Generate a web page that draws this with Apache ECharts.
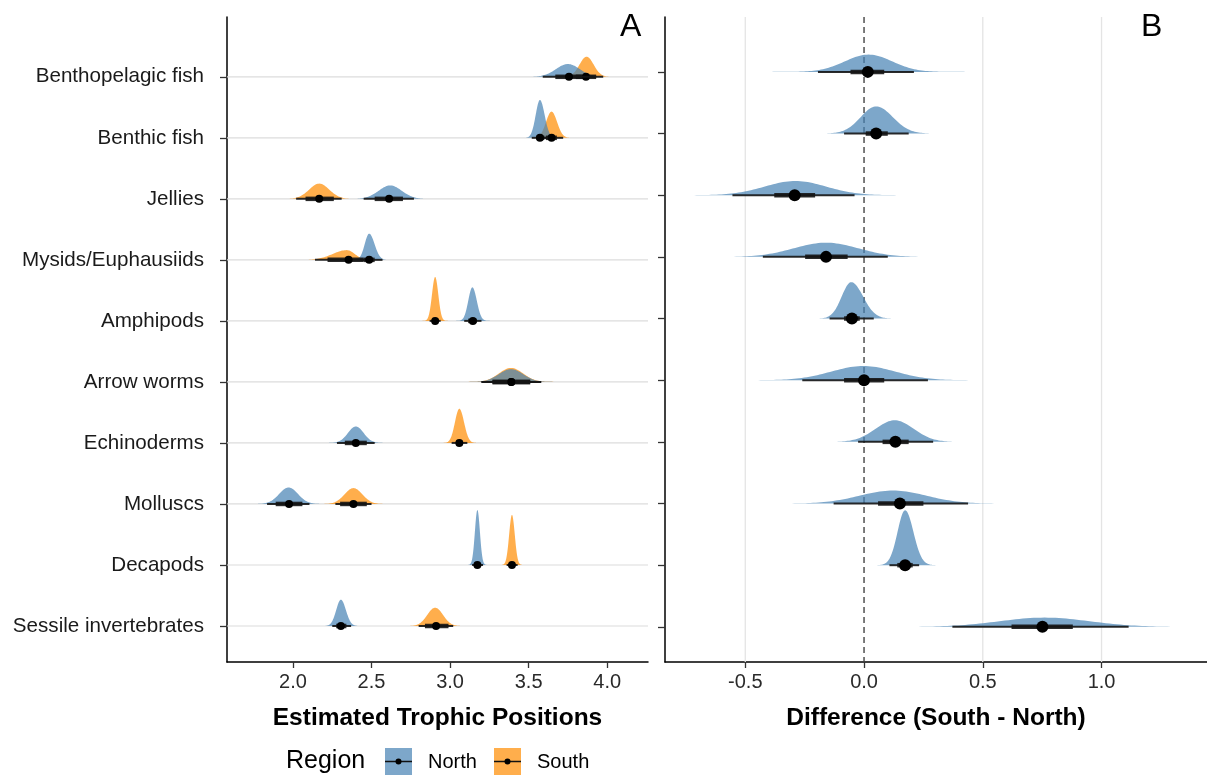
<!DOCTYPE html>
<html><head><meta charset="utf-8">
<script src="https://cdn.jsdelivr.net/npm/echarts@6/dist/echarts.min.js"></script>
<style>html,body{margin:0;padding:0;background:#fff}#c{width:1207px;height:776px}</style>
</head><body><div id="c"></div>
<script>
// ---------- data (top to bottom as displayed) ----------
const categories = ['Benthopelagic fish','Benthic fish','Jellies','Mysids/Euphausiids','Amphipods','Arrow worms','Echinoderms','Molluscs','Decapods','Sessile invertebrates'];
const regions = ['North','South'];
const xTicksA = [2.0, 2.5, 3.0, 3.5, 4.0];
const xTicksB = [-0.5, 0.0, 0.5, 1.0];

// Panel A – North posterior (estimated trophic position)
const northMode   = [3.75, 3.572, 2.619, 2.485, 3.142, 3.388, 2.40, 1.972, 3.174, 2.305];
const northSdL    = [0.075, 0.027, 0.073, 0.028, 0.026, 0.077, 0.05, 0.06, 0.016, 0.03];
const northSdR    = [0.075, 0.030, 0.073, 0.034, 0.028, 0.077, 0.05, 0.06, 0.016, 0.032];
const northHeight = [0.21, 0.62, 0.22, 0.43, 0.55, 0.21, 0.27, 0.27, 0.90, 0.43];
const northLo95   = [3.59, 3.52, 2.45, 2.43, 3.09, 3.20, 2.28, 1.835, 3.14, 2.25];
const northLo66   = [3.67, 3.55, 2.52, 2.45, 3.115, 3.27, 2.33, 1.89, 3.16, 2.275];
const northMedian = [3.757, 3.572, 2.612, 2.485, 3.145, 3.39, 2.40, 1.975, 3.174, 2.305];
const northHi66   = [3.84, 3.60, 2.70, 2.52, 3.17, 3.51, 2.47, 2.06, 3.19, 2.34];
const northHi95   = [3.93, 3.625, 2.77, 2.57, 3.20, 3.58, 2.52, 2.105, 3.21, 2.37];

// Panel A – South posterior
const southMode   = [3.869, 3.646, 2.167, 2.343, 2.905, 3.388, 3.059, 2.385, 3.394, 2.905];
const southSdL    = [0.045, 0.035, 0.064, 0.09, 0.02, 0.077, 0.028, 0.057, 0.018, 0.05];
const southSdR    = [0.045, 0.035, 0.064, 0.05, 0.02, 0.077, 0.030, 0.057, 0.018, 0.05];
const southHeight = [0.33, 0.43, 0.25, 0.16, 0.72, 0.23, 0.56, 0.26, 0.82, 0.30];
const southLo95   = [3.74, 3.58, 2.02, 2.14, 2.87, 3.20, 3.01, 2.27, 3.36, 2.80];
const southLo66   = [3.80, 3.61, 2.08, 2.22, 2.89, 3.27, 3.04, 2.30, 3.38, 2.84];
const southMedian = [3.865, 3.646, 2.167, 2.354, 2.905, 3.39, 3.059, 2.385, 3.394, 2.911];
const southHi66   = [3.93, 3.68, 2.26, 2.45, 2.925, 3.51, 3.08, 2.47, 3.41, 2.99];
const southHi95   = [3.975, 3.72, 2.31, 2.50, 2.94, 3.58, 3.11, 2.50, 3.43, 3.02];

// Panel B – difference (South - North)
const diffMode   = [0.019, 0.051, -0.289, -0.16, -0.054, -0.003, 0.129, 0.122, 0.173, 0.76];
const diffSdL    = [0.10, 0.065, 0.13, 0.135, 0.04, 0.135, 0.08, 0.14, 0.032, 0.19];
const diffSdR    = [0.10, 0.070, 0.13, 0.135, 0.05, 0.135, 0.08, 0.14, 0.035, 0.19];
const diffHeight = [0.28, 0.44, 0.23, 0.23, 0.59, 0.23, 0.35, 0.21, 0.89, 0.15];
const diffLo95   = [-0.194, -0.084, -0.554, -0.426, -0.145, -0.26, -0.025, -0.128, 0.107, 0.372];
const diffLo66   = [-0.057, 0.007, -0.378, -0.248, -0.084, -0.084, 0.078, 0.059, 0.14, 0.621];
const diffMedian = [0.016, 0.051, -0.292, -0.16, -0.051, 0.0, 0.132, 0.151, 0.173, 0.751];
const diffHi66   = [0.085, 0.10, -0.206, -0.069, -0.018, 0.085, 0.188, 0.25, 0.205, 0.879];
const diffHi95   = [0.21, 0.188, -0.04, 0.10, 0.041, 0.269, 0.291, 0.438, 0.232, 1.114];

// ---------- helpers ----------
const n = categories.length;
const rowOf = i => n - 1 - i;
const rows = categories.map((c, i) => rowOf(i));
const FONT = "'Liberation Sans', Arial, Helvetica, sans-serif";
const BLUE = 'rgba(70,130,180,0.7)';
const ORANGE = 'rgba(255,140,0,0.7)';
const BLUE_KEY = '#7DA7CA';
const ORANGE_KEY = '#FFAE4C';

const densItems = (mode, sl, sr, h) => categories.map((c, i) => [mode[i], rowOf(i), sl[i], sr[i], h[i]]);
const intItems = (lo95, lo66, med, hi66, hi95) => categories.map((c, i) => [med[i], rowOf(i), lo95[i], lo66[i], hi66[i], hi95[i]]);

function renderDensity(color) {
  return function (params, api) {
    const m = api.value(0), row = api.value(1), sl = api.value(2), sr = api.value(3), h = api.value(4);
    const pts = [api.coord([m - 4.4 * sl, row])];
    for (let k = -4.4; k <= 4.4001; k += 0.08) {
      const s = k < 0 ? sl : sr;
      pts.push(api.coord([m + k * s, row + h * Math.exp(-k * k / 2)]));
    }
    pts.push(api.coord([m + 4.4 * sr, row]));
    const cs = params.coordSys;
    return { type: 'polygon', shape: { points: pts }, style: { fill: color },
      clipPath: { type: 'rect', shape: { x: cs.x, y: cs.y, width: cs.width, height: cs.height } } };
  };
}
function renderInterval(thin, thick, r) {
  return function (params, api) {
    const row = api.value(1);
    const p = api.coord([api.value(0), row]);
    const a = api.coord([api.value(2), row]), c = api.coord([api.value(3), row]);
    const d = api.coord([api.value(4), row]), b = api.coord([api.value(5), row]);
    return { type: 'group', children: [
      { type: 'line', shape: { x1: a[0], y1: a[1], x2: b[0], y2: b[1] }, style: { stroke: 'rgba(20,20,20,0.9)', lineWidth: thin } },
      { type: 'line', shape: { x1: c[0], y1: c[1], x2: d[0], y2: d[1] }, style: { stroke: 'rgba(20,20,20,0.9)', lineWidth: thick } },
      { type: 'circle', shape: { cx: p[0], cy: p[1], r: r }, style: { fill: '#000' } }
    ] };
  };
}

const axisLineStyle = { color: '#000', width: 1.5 };

const option = {
  animation: false,
  backgroundColor: '#fff',
  textStyle: { fontFamily: FONT },
  grid: [
    { left: 227, right: 559, top: 17, bottom: 114 },
    { left: 665, right: 0, top: 17, bottom: 114 }
  ],
  xAxis: [
    { gridIndex: 0, type: 'value', min: 1.58, max: 4.26,
      axisLine: { show: true, onZero: false, lineStyle: axisLineStyle },
      axisTick: { show: true, customValues: xTicksA, length: 6, lineStyle: { color: '#333', width: 1.3 } },
      axisLabel: { customValues: xTicksA, formatter: v => Number(v).toFixed(1), fontSize: 20, color: '#2a2a2a', margin: 10, fontFamily: FONT },
      splitLine: { show: false },
      name: 'Estimated Trophic Positions', nameLocation: 'middle', nameGap: 44,
      nameTextStyle: { fontSize: 24.5, fontWeight: 'bold', color: '#000', fontFamily: FONT } },
    { gridIndex: 1, type: 'value', min: -0.838, max: 1.444,
      axisLine: { show: true, onZero: false, lineStyle: axisLineStyle },
      axisTick: { show: true, customValues: xTicksB, length: 6, lineStyle: { color: '#333', width: 1.3 } },
      axisLabel: { customValues: xTicksB, formatter: v => Number(v).toFixed(1), fontSize: 20, color: '#2a2a2a', margin: 10, fontFamily: FONT },
      splitLine: { show: false },
      name: 'Difference (South - North)', nameLocation: 'middle', nameGap: 44,
      nameTextStyle: { fontSize: 24.5, fontWeight: 'bold', color: '#000', fontFamily: FONT } }
  ],
  yAxis: [
    { gridIndex: 0, type: 'value', min: -0.59, max: 9.98,
      axisLine: { show: true, onZero: false, lineStyle: axisLineStyle },
      axisTick: { show: true, customValues: rows, length: 7, lineStyle: { color: '#333', width: 1.3 } },
      axisLabel: { customValues: rows, formatter: v => categories[n - 1 - Math.round(v)], fontSize: 20.6, color: '#1a1a1a', margin: 23, fontFamily: FONT },
      splitLine: { show: false } },
    { gridIndex: 1, type: 'value', min: -0.57, max: 9.89,
      axisLine: { show: true, onZero: false, lineStyle: axisLineStyle },
      axisTick: { show: true, customValues: rows, length: 7, lineStyle: { color: '#333', width: 1.3 } },
      axisLabel: { show: false },
      splitLine: { show: false } }
  ],
  series: [
    // panel A horizontal guide lines
    { type: 'custom', xAxisIndex: 0, yAxisIndex: 0, z: 1, silent: true,
      data: rows.map(r => [2.0, r]),
      renderItem: (params, api) => {
        const cs = params.coordSys; const y = api.coord([2.0, api.value(1)])[1];
        return { type: 'line', shape: { x1: cs.x, y1: y, x2: cs.x + cs.width, y2: y }, style: { stroke: '#dcdcdc', lineWidth: 1.2 } };
      } },
    // panel B vertical grid lines + zero line
    { type: 'custom', xAxisIndex: 1, yAxisIndex: 1, z: 1, silent: true,
      data: xTicksB.map(v => [v, 0]),
      renderItem: (params, api) => {
        const cs = params.coordSys; const v = api.value(0); const x = api.coord([v, 0])[0];
        const zero = Math.abs(v) < 1e-9;
        return { type: 'line', shape: { x1: x, y1: cs.y, x2: x, y2: cs.y + cs.height },
          style: zero ? { stroke: '#444', lineWidth: 1.4, lineDash: [6, 4] } : { stroke: '#e4e4e4', lineWidth: 1.3 } };
      } },
    // panel A densities
    { type: 'custom', name: 'South', xAxisIndex: 0, yAxisIndex: 0, z: 2, encode: { x: 0, y: 1 },
      data: densItems(southMode, southSdL, southSdR, southHeight), renderItem: renderDensity(ORANGE) },
    { type: 'custom', name: 'North', xAxisIndex: 0, yAxisIndex: 0, z: 2, encode: { x: 0, y: 1 },
      data: densItems(northMode, northSdL, northSdR, northHeight), renderItem: renderDensity(BLUE) },
    // panel A intervals
    { type: 'custom', xAxisIndex: 0, yAxisIndex: 0, z: 3, encode: { x: 0, y: 1 },
      data: intItems(southLo95, southLo66, southMedian, southHi66, southHi95), renderItem: renderInterval(2, 4.5, 4) },
    { type: 'custom', xAxisIndex: 0, yAxisIndex: 0, z: 3, encode: { x: 0, y: 1 },
      data: intItems(northLo95, northLo66, northMedian, northHi66, northHi95), renderItem: renderInterval(2, 4.5, 4) },
    // panel B
    { type: 'custom', xAxisIndex: 1, yAxisIndex: 1, z: 2, encode: { x: 0, y: 1 },
      data: densItems(diffMode, diffSdL, diffSdR, diffHeight), renderItem: renderDensity(BLUE) },
    { type: 'custom', xAxisIndex: 1, yAxisIndex: 1, z: 3, encode: { x: 0, y: 1 },
      data: intItems(diffLo95, diffLo66, diffMedian, diffHi66, diffHi95), renderItem: renderInterval(2, 4.5, 6) }
  ],
  graphic: [
    { type: 'text', left: 620, top: 11, style: { text: 'A', fontSize: 32, fill: '#000', fontFamily: FONT } },
    { type: 'text', left: 1141, top: 11, style: { text: 'B', fontSize: 32, fill: '#000', fontFamily: FONT } },
    { type: 'text', left: 286, top: 749, style: { text: 'Region', fontSize: 25, fill: '#000', fontFamily: FONT } },
    { type: 'rect', shape: { x: 385, y: 748, width: 27, height: 27 }, style: { fill: BLUE_KEY } },
    { type: 'line', shape: { x1: 385, y1: 761.5, x2: 412, y2: 761.5 }, style: { stroke: '#111', lineWidth: 1.5 } },
    { type: 'circle', shape: { cx: 398.5, cy: 761.5, r: 3 }, style: { fill: '#000' } },
    { type: 'text', left: 428, top: 752, style: { text: regions[0], fontSize: 20, fill: '#000', fontFamily: FONT } },
    { type: 'rect', shape: { x: 494, y: 748, width: 27, height: 27 }, style: { fill: ORANGE_KEY } },
    { type: 'line', shape: { x1: 494, y1: 761.5, x2: 521, y2: 761.5 }, style: { stroke: '#111', lineWidth: 1.5 } },
    { type: 'circle', shape: { cx: 507.5, cy: 761.5, r: 3 }, style: { fill: '#000' } },
    { type: 'text', left: 537, top: 752, style: { text: regions[1], fontSize: 20, fill: '#000', fontFamily: FONT } }
  ]
};

const chart = echarts.init(document.getElementById('c'), null, { renderer: 'canvas' });
chart.setOption(option);
</script>
</body></html>
